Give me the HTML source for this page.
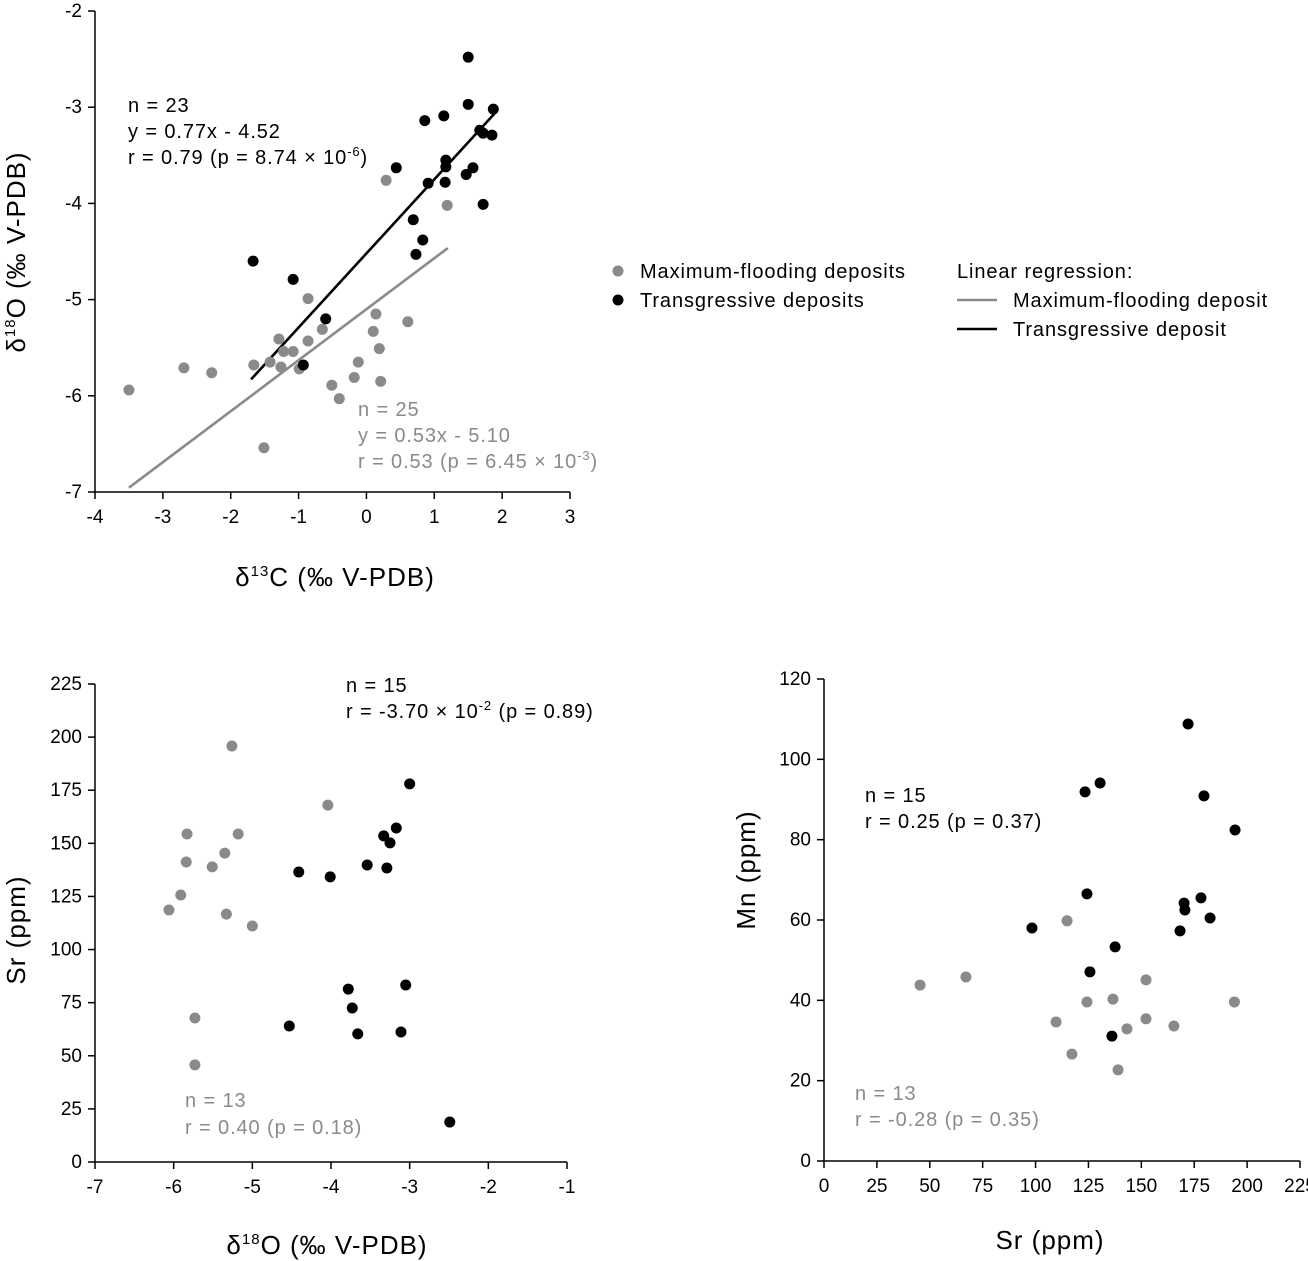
<!DOCTYPE html>
<html><head><meta charset="utf-8"><style>
html,body{margin:0;padding:0;background:#fff;}
svg{display:block;font-family:"Liberation Sans",Arial,sans-serif;}
</style></head><body>
<svg id="s" width="1308" height="1261" viewBox="0 0 1308 1261"></svg>
<script>
// ---- Chart A: d13C vs d18O ----
const aGrayX=[-3.50,-2.69,-2.28,-1.66,-1.51,-1.42,-1.29,-1.26,-1.22,-1.08,-0.99,-0.86,-0.86,-0.65,-0.51,-0.40,-0.18,-0.12,0.10,0.14,0.19,0.21,0.29,0.61,1.19];
const aGrayY=[-5.94,-5.71,-5.76,-5.68,-6.54,-5.65,-5.41,-5.70,-5.54,-5.54,-5.72,-4.99,-5.43,-5.31,-5.89,-6.03,-5.81,-5.65,-5.33,-5.15,-5.51,-5.85,-3.76,-5.23,-4.02];
const aBlackX=[-1.67,-1.08,-0.93,-0.60,0.44,0.69,0.73,0.83,0.86,0.91,1.14,1.17,1.17,1.16,1.47,1.50,1.50,1.57,1.67,1.72,1.72,1.85,1.87];
const aBlackY=[-4.60,-4.79,-5.68,-5.20,-3.63,-4.17,-4.53,-4.38,-3.14,-3.79,-3.09,-3.55,-3.62,-3.78,-3.70,-2.48,-2.97,-3.63,-3.24,-3.27,-4.01,-3.29,-3.02];
const aXTicks=[-4,-3,-2,-1,0,1,2,3];
const aYTicks=[-2,-3,-4,-5,-6,-7];
const aFitBlack=[0.77,-4.52,-1.7,1.9];
const aFitGray=[0.53,-5.10,-3.5,1.2];
// ---- Chart B: d18O vs Sr ----
const bGrayX=[-6.06,-5.91,-5.84,-5.83,-5.73,-5.73,-5.51,-5.35,-5.33,-5.26,-5.18,-5.00,-4.04];
const bGrayY=[118.6,125.7,141.2,154.4,67.8,45.7,138.9,145.4,116.7,195.8,154.4,111.1,168.0];
const bBlackX=[-4.53,-4.41,-4.01,-3.78,-3.73,-3.66,-3.54,-3.33,-3.29,-3.25,-3.17,-3.11,-3.05,-3.00,-2.49];
const bBlackY=[64.0,136.5,134.2,81.4,72.5,60.3,139.8,153.5,138.4,150.2,157.2,61.2,83.3,178.0,18.8];
const bXTicks=[-7,-6,-5,-4,-3,-2,-1];
const bYTicks=[0,25,50,75,100,125,150,175,200,225];
// ---- Chart C: Sr vs Mn ----
const cGrayX=[45.4,67.1,109.7,114.9,117.2,124.3,136.6,139.0,143.2,152.2,152.2,165.4,194.0];
const cGrayY=[43.8,45.8,34.6,59.8,26.6,39.6,40.3,22.7,32.9,45.1,35.4,33.6,39.6];
const cBlackX=[98.3,123.4,124.3,125.7,130.5,136.1,137.6,168.3,170.2,170.6,172.1,178.2,179.6,182.5,194.3];
const cBlackY=[58.0,91.9,66.5,47.1,94.1,31.1,53.3,57.3,64.2,62.5,108.8,65.5,90.9,60.5,82.4];
const cXTicks=[0,25,50,75,100,125,150,175,200,225];
const cYTicks=[0,20,40,60,80,100,120];

const NS="http://www.w3.org/2000/svg";
const svg=document.getElementById('s');
const GRAY="#8a8a8a";
function mk(tag,attrs,parent){const e=document.createElementNS(NS,tag);for(const k in attrs)e.setAttribute(k,attrs[k]);(parent||svg).appendChild(e);return e;}
function txt(str,x,y,size,fill,anchor,parent){const t=mk('text',{x:x,y:y,'font-size':size,fill:fill||'#000','text-anchor':anchor||'start'},parent);t.textContent=str;return t;}

function chart(name,xmin,xmax,ymin,ymax,px0,px1,py0,py1,xt,yt){
  const g=mk('g',{});
  
  
  const sx=v=>px0+(v-xmin)/(xmax-xmin)*(px1-px0);
  const sy=v=>py0-(v-ymin)/(ymax-ymin)*(py0-py1);
  const xa=mk('line',{x1:px0,x2:px1,y1:py0,y2:py0,stroke:'#000','stroke-width':1.5},g);
  
  
  const ya=mk('line',{x1:px0,x2:px0,y1:py0,y2:py1,stroke:'#000','stroke-width':1.5},g);
  
  
  xt.forEach(v=>{const x=sx(v);mk('line',{x1:x,x2:x,y1:py0,y2:py0+7,stroke:'#000','stroke-width':1.5},g);
    const t=txt(String(v),x,py0+31,19,'#000','middle',g);
    
    });
  yt.forEach(v=>{const y=sy(v);mk('line',{x1:px0-7,x2:px0,y1:y,y2:y,stroke:'#000','stroke-width':1.5},g);
    const t=txt(String(v),px0-13,y+6,19,'#000','end',g);
    
    });
  return {g,sx,sy};
}
function pts(c,xs,ys,col,name){xs.forEach((x,i)=>{const p=mk('circle',{cx:c.sx(x),cy:c.sy(ys[i]),r:5.5,fill:col},c.g);
  
  });}
function fit(c,f,col,name){const l=mk('line',{x1:c.sx(f[2]),y1:c.sy(f[0]*f[2]+f[1]),x2:c.sx(f[3]),y2:c.sy(f[0]*f[3]+f[1]),stroke:col,'stroke-width':2.6},c.g);
  
  }

const A=chart('isotope-chart',-4,3,-7,-2,95,570,492,11,aXTicks,aYTicks);
fit(A,aFitGray,GRAY,'regression-line-max-flooding');
fit(A,aFitBlack,'#000','regression-line-transgressive');
pts(A,aGrayX,aGrayY,GRAY,'point-max-flooding');
pts(A,aBlackX,aBlackY,'#000','point-transgressive');
const B=chart('sr-vs-d18o-chart',-7,-1,0,225,95,567,1162,684,bXTicks,bYTicks);
pts(B,bGrayX,bGrayY,GRAY,'point-max-flooding');
pts(B,bBlackX,bBlackY,'#000','point-transgressive');
const C=chart('mn-vs-sr-chart',0,225,0,120,824,1300,1161,679,cXTicks,cYTicks);
pts(C,cGrayX,cGrayY,GRAY,'point-max-flooding');
pts(C,cBlackX,cBlackY,'#000','point-transgressive');
</script>
<div style="position:absolute;left:0;top:0;width:1308px;height:1261px;pointer-events:none">
<svg width="1308" height="1261" style="position:absolute;left:0;top:0" font-family="Liberation Sans, Arial, sans-serif">
  <g font-size="20" letter-spacing="0.9">
    <text x="128" y="112">n = 23</text>
    <text x="128" y="138">y = 0.77x - 4.52</text>
    <text x="128" y="164">r = 0.79 (p = 8.74 × 10<tspan font-size="13" dy="-8">-6</tspan><tspan dy="8">)</tspan></text>
  </g>
  <g font-size="20" letter-spacing="0.9" fill="#8a8a8a">
    <text x="358" y="416">n = 25</text>
    <text x="358" y="442">y = 0.53x - 5.10</text>
    <text x="358" y="468">r = 0.53 (p = 6.45 × 10<tspan font-size="13" dy="-8">-3</tspan><tspan dy="8">)</tspan></text>
  </g>
  <text x="335" y="586" font-size="26" letter-spacing="1" text-anchor="middle">δ<tspan font-size="15" dy="-10">13</tspan><tspan dy="10">C (‰ V-PDB)</tspan></text>
  <text transform="translate(25,252) rotate(-90)" font-size="26" letter-spacing="1" text-anchor="middle">δ<tspan font-size="15" dy="-10">18</tspan><tspan dy="10">O (‰ V-PDB)</tspan></text>
  <g font-size="20" letter-spacing="0.9">
    <circle cx="618" cy="271" r="5.5" fill="#8a8a8a"/>
    <text x="640" y="278">Maximum-flooding deposits</text>
    <circle cx="618" cy="300" r="5.5" fill="#000"/>
    <text x="640" y="307">Transgressive deposits</text>
    <text x="957" y="278">Linear regression:</text>
    <line x1="957" x2="997" y1="300" y2="300" stroke="#8a8a8a" stroke-width="2.6"/>
    <text x="1013" y="307">Maximum-flooding deposit</text>
    <line x1="957" x2="997" y1="329" y2="329" stroke="#000" stroke-width="2.6"/>
    <text x="1013" y="336">Transgressive deposit</text>
  </g>
  <g font-size="20" letter-spacing="0.9">
    <text x="346" y="692">n = 15</text>
    <text x="346" y="718">r = -3.70 × 10<tspan font-size="13" dy="-8">-2</tspan><tspan dy="8"> (p = 0.89)</tspan></text>
  </g>
  <g font-size="20" letter-spacing="0.9" fill="#8a8a8a">
    <text x="185" y="1107">n = 13</text>
    <text x="185" y="1134">r = 0.40 (p = 0.18)</text>
  </g>
  <text x="327" y="1254" font-size="26" letter-spacing="1" text-anchor="middle">δ<tspan font-size="15" dy="-10">18</tspan><tspan dy="10">O (‰ V-PDB)</tspan></text>
  <text transform="translate(25,930) rotate(-90)" font-size="26" letter-spacing="1" text-anchor="middle">Sr (ppm)</text>
  <g font-size="20" letter-spacing="0.9">
    <text x="865" y="802">n = 15</text>
    <text x="865" y="828">r = 0.25 (p = 0.37)</text>
  </g>
  <g font-size="20" letter-spacing="0.9" fill="#8a8a8a">
    <text x="855" y="1100">n = 13</text>
    <text x="855" y="1126">r = -0.28 (p = 0.35)</text>
  </g>
  <text x="1050" y="1249" font-size="26" letter-spacing="1" text-anchor="middle">Sr (ppm)</text>
  <text transform="translate(755,870) rotate(-90)" font-size="26" letter-spacing="1" text-anchor="middle">Mn (ppm)</text>
</svg>
</div>
</body></html>
